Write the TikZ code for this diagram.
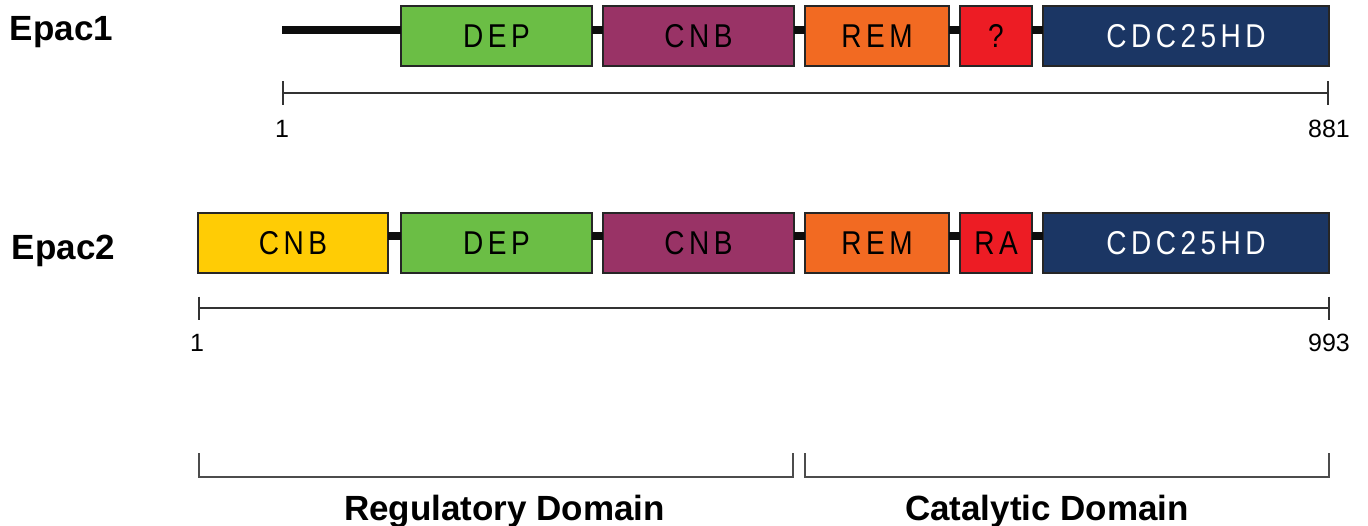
\documentclass[tikz,border=0pt]{standalone}
\usepackage{fontspec}
\setmainfont{Liberation Sans}
\definecolor{cgreen}{RGB}{107,190,69}
\definecolor{cpurple}{RGB}{153,51,102}
\definecolor{corange}{RGB}{242,106,34}
\definecolor{cred}{RGB}{237,28,36}
\definecolor{cnavy}{RGB}{27,54,100}
\definecolor{cyellow}{RGB}{255,204,5}
\newcommand\tk{\kern2.65pt}
\newcommand\lbl[1]{\scalebox{0.85}[1]{\fontsize{16.5pt}{16.5pt}\selectfont #1}}
\begin{document}
\begin{tikzpicture}[x=0.5pt,y=-0.5pt,
  dom/.style={draw=black!85, line width=0.75pt, inner sep=0pt, outer sep=0pt, minimum height=30pt, anchor=center},
  link/.style={line width=4pt, black!95},
  scalebar/.style={line width=0.75pt, black!80},
  bracket/.style={line width=1pt, black!70},
  numlbl/.style={font=\fontsize{12.5pt}{12.5pt}\selectfont, inner sep=0pt},
  protlbl/.style={font=\fontsize{17.5pt}{17.5pt}\selectfont\bfseries, inner sep=0pt, anchor=base west},
  regionlbl/.style={font=\fontsize{17.5pt}{17.5pt}\selectfont\bfseries, inner sep=0pt, anchor=base},
]
\useasboundingbox (0,0) rectangle (1368,525);

% ---- Epac1 ----
\node[protlbl] (l1) at (9.5,40) {Epac1};
\coordinate (s1) at (282,30);
\node[dom, fill=cgreen,  minimum width=95.5pt] (a1) at (496.5,36) {\lbl{D\tk E\tk P}};
\node[dom, fill=cpurple, minimum width=95.5pt] (b1) at (698.5,36) {\lbl{C\tk N\tk B}};
\node[dom, fill=corange, minimum width=72pt]   (c1) at (877,36)   {\lbl{R\tk E\tk M}};
\node[dom, fill=cred,    minimum width=36pt]   (d1) at (996,36)   {\lbl{?}};
\node[dom, fill=cnavy,   minimum width=143pt]  (e1) at (1186,36)  {\lbl{\color{white}C\tk D\tk C\tk 2\tk 5\tk H\tk D}};
\draw[link] (s1) -- ([yshift=3pt]a1.west);
\draw[link] ([yshift=3pt]a1.east) -- ([yshift=3pt]b1.west);
\draw[link] ([yshift=3pt]b1.east) -- ([yshift=3pt]c1.west);
\draw[link] ([yshift=3pt]c1.east) -- ([yshift=3pt]d1.west);
\draw[link] ([yshift=3pt]d1.east) -- ([yshift=3pt]e1.west);

\coordinate (t1l) at (283,93);
\coordinate (t1r) at (1328,93);
\draw[scalebar] (t1l) -- (t1r);
\draw[scalebar] ([yshift=6pt]t1l) -- ([yshift=-6pt]t1l);
\draw[scalebar] ([yshift=6pt]t1r) -- ([yshift=-6pt]t1r);
\node[numlbl] (n1a) at (282,129) {1};
\node[numlbl] (n1b) at (1329,129) {881};

% ---- Epac2 ----
\node[protlbl] (l2) at (11.5,259) {Epac2};
\node[dom, fill=cyellow, minimum width=95pt]   (a2) at (293,243)  {\lbl{C\tk N\tk B}};
\node[dom, fill=cgreen,  minimum width=95.5pt] (b2) at (496.5,243) {\lbl{D\tk E\tk P}};
\node[dom, fill=cpurple, minimum width=95.5pt] (c2) at (698.5,243) {\lbl{C\tk N\tk B}};
\node[dom, fill=corange, minimum width=72pt]   (d2) at (877,243)  {\lbl{R\tk E\tk M}};
\node[dom, fill=cred,    minimum width=36pt]   (e2) at (996,243)  {\lbl{R\tk A}};
\node[dom, fill=cnavy,   minimum width=143pt]  (f2) at (1186,243) {\lbl{\color{white}C\tk D\tk C\tk 2\tk 5\tk H\tk D}};
\draw[link] ([yshift=3.5pt]a2.east) -- ([yshift=3.5pt]b2.west);
\draw[link] ([yshift=3.5pt]b2.east) -- ([yshift=3.5pt]c2.west);
\draw[link] ([yshift=3.5pt]c2.east) -- ([yshift=3.5pt]d2.west);
\draw[link] ([yshift=3.5pt]d2.east) -- ([yshift=3.5pt]e2.west);
\draw[link] ([yshift=3.5pt]e2.east) -- ([yshift=3.5pt]f2.west);

\coordinate (t2l) at (199,308);
\coordinate (t2r) at (1329,308);
\draw[scalebar] (t2l) -- (t2r);
\draw[scalebar] ([yshift=5.75pt]t2l) -- ([yshift=-5.75pt]t2l);
\draw[scalebar] ([yshift=5.75pt]t2r) -- ([yshift=-5.75pt]t2r);
\node[numlbl] (n2a) at (197,343) {1};
\node[numlbl] (n2b) at (1329,343) {993};

% ---- domains ----
\coordinate (ra) at (199,453);
\coordinate (rb) at (199,477);
\coordinate (rc) at (793,477);
\coordinate (rd) at (793,453);
\draw[bracket] (ra) -- (rb) -- (rc) -- (rd);
\coordinate (ca) at (805,453);
\coordinate (cb) at (805,477);
\coordinate (cc) at (1329,477);
\coordinate (cd) at (1329,453);
\draw[bracket] (ca) -- (cb) -- (cc) -- (cd);
\node[regionlbl] (r1) at (504.5,520) {Regulatory Domain};
\node[regionlbl] (r2) at (1047,520) {Catalytic Domain};
\end{tikzpicture}
\end{document}
